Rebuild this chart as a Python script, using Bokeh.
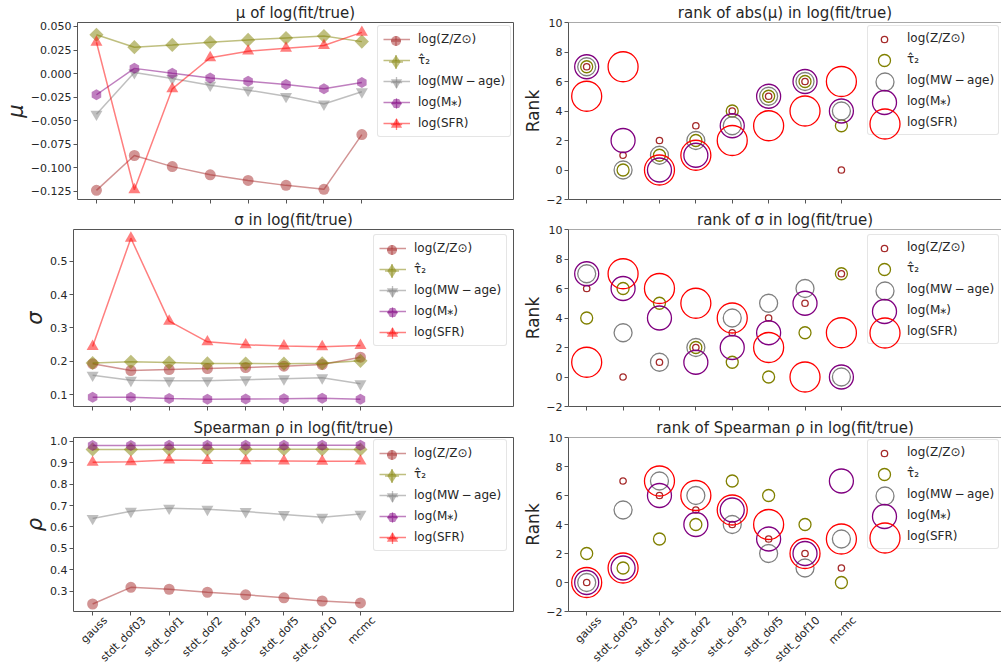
from math import pi

from bokeh.embed import file_html
from bokeh.layouts import column, row
from bokeh.models import (CustomJSTickFormatter, FixedTicker, Legend, LegendItem,
                          LinearAxis, Range1d, Span)
from bokeh.plotting import figure
from bokeh.resources import INLINE

# ---------------------------------------------------------------- data
methods = ["gauss", "stdt_dof03", "stdt_dof1", "stdt_dof2",
           "stdt_dof3", "stdt_dof5", "stdt_dof10", "mcmc"]
params = ["log(Z/Z\u2299)", "\u03c4\u0302\u2082", "log(MW\u2009\u2212\u2009age)",
          "log(M\u204e)", "log(SFR)"]

# mean of log(fit/true)
mu_Z     = [-0.1240, -0.0870, -0.0988, -0.1075, -0.1135, -0.1187, -0.1229, -0.0648]
mu_tau2  = [0.0412, 0.0280, 0.0304, 0.0332, 0.0357, 0.0378, 0.0398, 0.0339]
mu_age   = [-0.0431, 0.0010, -0.0053, -0.0123, -0.0176, -0.0242, -0.0323, -0.0193]
mu_mstar = [-0.0225, 0.0055, 0.0003, -0.0046, -0.0081, -0.0116, -0.0161, -0.0095]
mu_sfr   = [0.0332, -0.1233, -0.0162, 0.0168, 0.0238, 0.0269, 0.0297, 0.0437]

# scatter of log(fit/true)
sig_Z     = [0.192, 0.172, 0.175, 0.178, 0.181, 0.185, 0.190, 0.212]
sig_tau2  = [0.1945, 0.198, 0.196, 0.1932, 0.1928, 0.1925, 0.1936, 0.201]
sig_age   = [0.158, 0.1425, 0.141, 0.1415, 0.144, 0.147, 0.150, 0.132]
sig_mstar = [0.092, 0.0915, 0.088, 0.086, 0.0865, 0.087, 0.0885, 0.0855]
sig_sfr   = [0.244, 0.569, 0.320, 0.258, 0.249, 0.2455, 0.2435, 0.247]

# Spearman correlation of fit vs true
rho_Z     = [0.240, 0.318, 0.309, 0.295, 0.283, 0.269, 0.254, 0.245]
rho_tau2  = [0.9624, 0.9622, 0.9626, 0.9628, 0.9633, 0.9631, 0.9628, 0.9620]
rho_age   = [0.640, 0.673, 0.688, 0.683, 0.672, 0.658, 0.645, 0.660]
rho_mstar = [0.9810, 0.9812, 0.9819, 0.9816, 0.9818, 0.9815, 0.9814, 0.9820]
rho_sfr   = [0.902, 0.905, 0.913, 0.910, 0.909, 0.908, 0.907, 0.9075]

# ranks of each statistic across methods
rank_mu_Z     = [7, 1, 2, 3, 4, 5, 6, 0]
rank_mu_tau2  = [7, 0, 1, 2, 4, 5, 6, 3]
rank_mu_age   = [7, 0, 1, 2, 3, 5, 6, 4]
rank_mu_mstar = [7, 2, 0, 1, 3, 5, 6, 4]
rank_mu_sfr   = [5, 7, 0, 1, 2, 3, 4, 6]

rank_sig_Z     = [6, 0, 1, 2, 3, 4, 5, 7]
rank_sig_tau2  = [4, 6, 5, 2, 1, 0, 3, 7]
rank_sig_age   = [7, 3, 1, 2, 4, 5, 6, 0]
rank_sig_mstar = [7, 6, 4, 1, 2, 3, 5, 0]
rank_sig_sfr   = [1, 7, 6, 5, 4, 2, 0, 3]

rank_rho_Z     = [0, 7, 6, 5, 4, 3, 2, 1]
rank_rho_tau2  = [2, 1, 3, 4, 7, 6, 4, 0]
rank_rho_age   = [0, 5, 7, 6, 4, 2, 1, 3]
rank_rho_mstar = [0, 1, 6, 4, 5, 3, 2, 7]
rank_rho_sfr   = [0, 1, 7, 6, 5, 4, 2, 3]

mu_ticks = [-0.125, -0.100, -0.075, -0.050, -0.025, 0.000, 0.025, 0.050]
sig_ticks = [0.1, 0.2, 0.3, 0.4, 0.5]
rho_ticks = [0.3, 0.4, 0.5, 0.6, 0.7, 0.8, 0.9, 1.0]
rank_ticks = [-2, 0, 2, 4, 6, 8, 10]

# ---------------------------------------------------------------- style
FONT = "DejaVu Sans"
INK = "#262626"
SPINE = "#555555"
colors = ["brown", "olive", "gray", "purple", "red"]
markers = ["circle", "square", "inverted_triangle", "hex", "triangle"]
marker_angles = [0, pi / 4, 0, pi / 2, 0]
marker_sizes = [11, 10, 12, 11, 12]
key_markers = ["circle", "diamond", "inverted_triangle", "hex", "triangle"]
key_sizes = [10, 14, 11, 10.4, 11]
ring_sizes = [6.4, 12, 18, 24, 30]
NAN = float("nan")
LABEL_SHIFT_PX = 13

X = list(range(len(methods)))

# row geometry: (top border, frame height, bottom border)
ROWS = [(20, 179, 6), (24, 177, 6), (25, 177, 58)]
LEFT_W, LEFT_B = 520, (73, 7)
RIGHT_W, RIGHT_B = 481, (47, 0)


def fmt(decimals):
    return CustomJSTickFormatter(
        args=dict(d=decimals),
        code="const v = Math.abs(tick) < 1e-9 ? 0 : tick;"
             "return v.toFixed(d).replace('-', '\\u2212');")


def style_axis(ax):
    ax.axis_line_color = None
    ax.major_tick_line_color = SPINE
    ax.major_tick_line_width = 1
    ax.major_tick_out = 4
    ax.major_tick_in = 0
    ax.minor_tick_line_color = None
    ax.major_label_text_font = FONT
    ax.major_label_text_font_size = "11px"
    ax.major_label_text_color = INK
    ax.major_label_standoff = 2
    ax.axis_label_text_font = FONT
    ax.axis_label_text_color = INK
    ax.axis_label_text_font_style = "normal"
    ax.axis_label_standoff = 0


def make_fig(row_idx, width, borders, x_end, y_lo, y_hi, title, yticks, ydec):
    top, fh, bottom = ROWS[row_idx]
    p = figure(width=width, height=top + fh + bottom,
               x_range=Range1d(-0.5, x_end), y_range=Range1d(y_lo, y_hi),
               output_backend="svg", toolbar_location=None,
               min_border_left=borders[0], min_border_right=borders[1],
               min_border_top=top, min_border_bottom=bottom,
               background_fill_color="white", border_fill_color="white")
    p.title.text = title
    p.title.align = "center"
    p.title.text_font = FONT
    p.title.text_font_size = "15px"
    p.title.text_font_style = "normal"
    p.title.text_color = INK
    p.title.standoff = 2
    p.xgrid.visible = False
    p.ygrid.visible = False

    p.xaxis.ticker = FixedTicker(ticks=X)
    p.yaxis.ticker = FixedTicker(ticks=yticks)
    p.yaxis.formatter = fmt(ydec)
    for ax in p.xaxis + p.yaxis:
        style_axis(ax)
    # tick marks only on the main x axis
    p.xaxis.major_label_text_color = None
    if row_idx == 2:
        # method names, nudged right so each rotated name sits centred on its tick
        frame_w = width - borders[0] - borders[1]
        shift = LABEL_SHIFT_PX * (x_end + 0.5) / frame_w
        names = LinearAxis(
            ticker=FixedTicker(ticks=[x + shift for x in X]),
            formatter=CustomJSTickFormatter(args=dict(names=methods),
                                            code="return names[index];"))
        style_axis(names)
        names.major_tick_line_color = None
        names.major_tick_out = 0
        names.major_label_orientation = pi / 4
        names.major_label_standoff = 3
        p.add_layout(names, "below")
    return p, fh


def legend_style(leg):
    leg.label_text_font = FONT
    leg.label_text_font_size = "12px"
    leg.label_text_color = INK
    leg.border_line_color = "#cccccc"
    leg.border_line_width = 1
    leg.background_fill_color = "white"
    leg.background_fill_alpha = 0.8
    if "border_radius" in Legend.properties():
        leg.border_radius = 3


def key_legend(p, renderers, cx, cy, fh, g):
    """A borderless one-entry legend whose glyph (drawn at 0.4*g) is centred at cx, cy."""
    leg = Legend(items=[LegendItem(label=" ", renderers=renderers)],
                 location=(cx - g / 2, fh - cy - g / 2), padding=0,
                 margin=0, spacing=0, glyph_width=g, glyph_height=g,
                 label_width=0, label_height=0, label_standoff=0,
                 border_line_color=None, background_fill_alpha=0,
                 label_text_font_size="1px")
    p.add_layout(leg)


BOX_TOP, ROW_H, GAP = 7, 16, 5


def stat_panel(row_idx, title, series, y_rng, yticks, ydec, ylabel):
    p, fh = make_fig(row_idx, LEFT_W, LEFT_B, 11.0, y_rng[0], y_rng[1],
                     title, yticks, ydec)
    p.outline_line_color = SPINE
    p.outline_line_width = 1
    p.yaxis.axis_label = ylabel
    p.yaxis.axis_label_text_font_size = "21px"
    p.yaxis.axis_label_text_font_style = "italic"
    lines, keys = [], []
    for k, ys in enumerate(series):
        lines.append(p.line(X, ys, line_color=colors[k], line_alpha=0.5,
                            line_width=1.5))
        p.scatter(X, ys, marker=markers[k], angle=marker_angles[k],
                  size=marker_sizes[k], fill_color=colors[k],
                  fill_alpha=0.5, line_color=None)
        key_mark = p.scatter([NAN], [NAN], marker=key_markers[k], size=1,
                             fill_color=colors[k], fill_alpha=0.5, line_color=None)
        key_bar = p.scatter([NAN], [NAN], marker="cross", size=1,
                            line_color=colors[k], line_alpha=0.5, line_width=1.3)
        keys.append([key_mark, key_bar])
    box_x, pad, gw = 300, 5, 27
    box_h = 2 * pad + 5 * ROW_H + 4 * GAP
    main = Legend(items=[LegendItem(label=lab, renderers=[ln])
                         for lab, ln in zip(params, lines)],
                  location=(box_x, fh - BOX_TOP - box_h), padding=pad,
                  spacing=GAP, glyph_width=gw, glyph_height=ROW_H,
                  label_height=ROW_H, label_standoff=8)
    legend_style(main)
    p.add_layout(main)
    cx = box_x + pad + gw / 2
    for k in range(5):
        cy = BOX_TOP + pad + ROW_H / 2 + k * (ROW_H + GAP)
        key_legend(p, keys[k], cx, cy, fh, round(key_sizes[k] / 0.4))
    return p


def rank_panel(row_idx, title, ranks):
    p, fh = make_fig(row_idx, RIGHT_W, RIGHT_B, 11.4, -2, 10,
                     title, rank_ticks, 0)
    p.outline_line_color = None
    p.yaxis.axis_line_color = SPINE
    p.xaxis[0].axis_line_color = SPINE
    p.add_layout(Span(location=10, dimension="width",
                      line_color=SPINE, line_width=1))
    p.yaxis.axis_label = "Rank"
    p.yaxis.axis_label_text_font_size = "17px"
    rings = []
    for k, rk in enumerate(ranks):
        rings.append(p.scatter(X, rk, marker="circle", size=ring_sizes[k],
                               fill_color=None, line_color=colors[k],
                               line_width=1.3))
    # legend box with the labels; the rings are drawn by per-entry legends
    blank = p.scatter([NAN], [NAN], marker="circle", size=1,
                      fill_color=None, line_color=None)
    box_x, pad, gw = 299, 4, 26
    box_h = 2 * pad + 5 * ROW_H + 4 * GAP
    main = Legend(items=[LegendItem(label=lab, renderers=[blank]) for lab in params],
                  location=(box_x, fh - BOX_TOP - box_h), padding=pad,
                  spacing=GAP, glyph_width=gw, glyph_height=ROW_H,
                  label_height=ROW_H, label_standoff=9)
    legend_style(main)
    p.add_layout(main)
    cx = box_x + pad + gw / 2
    for k, r in enumerate(rings):
        cy = BOX_TOP + pad + ROW_H / 2 + k * (ROW_H + GAP)
        key_legend(p, [r], cx, cy, fh, round(ring_sizes[k] / 0.4))
    return p


p_mu = stat_panel(0, "\u03bc of log(fit/true)",
                  [mu_Z, mu_tau2, mu_age, mu_mstar, mu_sfr],
                  (-0.1337, 0.0542), mu_ticks, 3, "\u03bc")
p_rmu = rank_panel(0, "rank of abs(\u03bc) in log(fit/true)",
                   [rank_mu_Z, rank_mu_tau2, rank_mu_age, rank_mu_mstar, rank_mu_sfr])
p_sig = stat_panel(1, "\u03c3 in log(fit/true)",
                   [sig_Z, sig_tau2, sig_age, sig_mstar, sig_sfr],
                   (0.064, 0.595), sig_ticks, 1, "\u03c3")
p_rsig = rank_panel(1, "rank of \u03c3 in log(fit/true)",
                    [rank_sig_Z, rank_sig_tau2, rank_sig_age, rank_sig_mstar, rank_sig_sfr])
p_rho = stat_panel(2, "Spearman \u03c1 in log(fit/true)",
                   [rho_Z, rho_tau2, rho_age, rho_mstar, rho_sfr],
                   (0.205, 1.018), rho_ticks, 1, "\u03c1")
p_rrho = rank_panel(2, "rank of Spearman \u03c1 in log(fit/true)",
                    [rank_rho_Z, rank_rho_tau2, rank_rho_age, rank_rho_mstar, rank_rho_sfr])

layout = column(row(p_mu, p_rmu), row(p_sig, p_rsig), row(p_rho, p_rrho))

with open("out.html", "w") as f:
    f.write(file_html(layout, INLINE))
